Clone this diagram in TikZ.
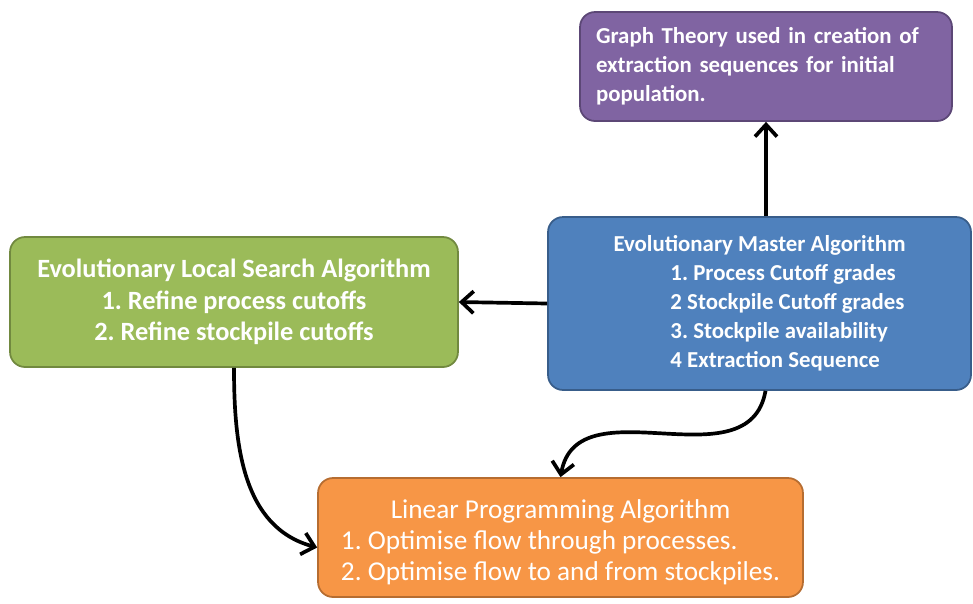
\documentclass[tikz,border=0pt]{standalone}
\usepackage{fontspec}
\setmainfont{Carlito}
\usetikzlibrary{arrows.meta, positioning, calc}

\definecolor{purplefill}{HTML}{8064A2}
\definecolor{purpleline}{HTML}{5C4776}
\definecolor{bluefill}{HTML}{4F81BD}
\definecolor{blueline}{HTML}{385D8A}
\definecolor{greenfill}{HTML}{9BBB59}
\definecolor{greenline}{HTML}{71893F}
\definecolor{orangefill}{HTML}{F79646}
\definecolor{orangeline}{HTML}{B66D31}

\frenchspacing

\begin{document}
\begin{tikzpicture}[
        x=0.02cm, y=-0.02cm,
        block/.style={
            draw,
            line width=1pt,
            rounded corners=3mm,
            text=white,
            inner sep=0pt
        },
        graphbox/.style={block, fill=purplefill, draw=purpleline,
            minimum width=7.44cm, minimum height=2.18cm,
            text width=6.8cm, align=left,
            font=\fontsize{13}{16.5}\selectfont\bfseries},
        masterbox/.style={block, fill=bluefill, draw=blueline,
            minimum width=8.46cm, minimum height=3.46cm,
            align=left,
            font=\fontsize{13}{16.5}\selectfont\bfseries},
        localbox/.style={block, fill=greenfill, draw=greenline,
            minimum width=8.96cm, minimum height=2.6cm,
            align=center,
            font=\fontsize{15}{17.8}\selectfont\bfseries},
        lpbox/.style={block, fill=orangefill, draw=orangeline,
            minimum width=9.7cm, minimum height=2.38cm,
            font=\fontsize{15.5}{17.6}\selectfont},
        arrow/.style={
            -{Straight Barb[length=2.4mm, width=4.4mm]},
            line width=2.1pt
        }
    ]

    \useasboundingbox (0,0) rectangle (973,603);

    \node[graphbox] (graph) at (766,66.5)
        {Graph Theory used in creation of extraction sequences for initial population.};
    \node[masterbox] (master) at (759.5,303.5)
        {Evolutionary Master Algorithm\\
         \hspace*{1.14cm}1. Process Cutoff grades\\
         \hspace*{1.14cm}2 Stockpile Cutoff grades\\
         \hspace*{1.14cm}3. Stockpile availability\\
         \hspace*{1.14cm}4 Extraction Sequence};
    \node[localbox] (local) at (234,302)
        {Evolutionary Local Search Algorithm\\1. Refine process cutoffs\\2. Refine stockpile cutoffs};
    \node[lpbox] (lp) at (560.5,537.5)
        {\begin{tabular}{@{}l@{}}
         \multicolumn{1}{@{}c@{}}{\rule{0pt}{0.67cm}Linear Programming Algorithm}\\
         1. Optimise flow through processes.\\
         2. Optimise flow to and from stockpiles.
         \end{tabular}};

    \draw[arrow] (master.north -| graph.south) -- (graph.south);
    \draw[arrow] (master.west) -- (local.east);
    \draw[arrow] (local.south) to[out=-90, in=165] ([yshift=-10*0.02cm]lp.west);
    \draw[arrow] ([xshift=6*0.02cm]master.south) to[out=-100, in=80, looseness=1.1] (lp.north);

\end{tikzpicture}
\end{document}
